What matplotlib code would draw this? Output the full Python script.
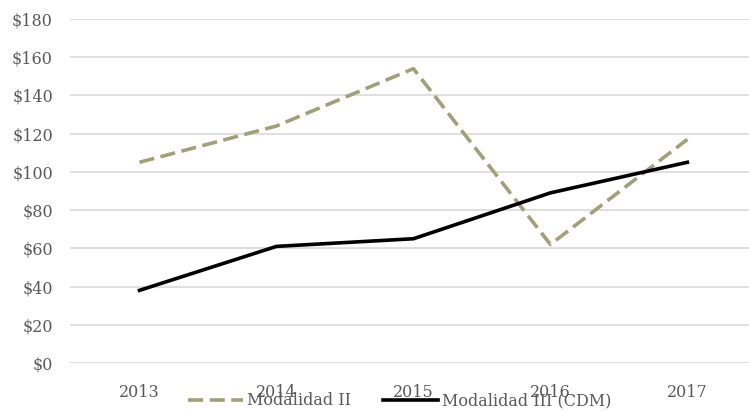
import matplotlib.pyplot as plt
from matplotlib.ticker import FuncFormatter

# datos
anios = ['2013', '2014', '2015', '2016', '2017']
modalidad_ii = [105, 124, 154, 62, 117]
modalidad_iii = [38, 61, 65, 89, 105]

plt.rcParams['font.family'] = ['DejaVu Serif']

fig = plt.figure(figsize=(7.49, 4.12), dpi=100)
ax = fig.add_axes([0.093, 0.119, 0.907, 0.835])

x = range(len(anios))
ax.plot(x, modalidad_ii, color='#a0a07a', lw=2.6, dashes=(4.2, 1.8),
        label='Modalidad II', solid_capstyle='butt')
ax.plot(x, modalidad_iii, color='black', lw=2.6, label='Modalidad III (CDM)')

ax.set_ylim(0, 180)
ax.set_yticks(range(0, 181, 20))
ax.yaxis.set_major_formatter(FuncFormatter(lambda v, p: '$%d' % v))
ax.set_xlim(-0.51, 4.45)
ax.set_xticks(list(x))
ax.set_xticklabels(anios)

ax.grid(axis='y', color='#d9d9d9', lw=1.2)
ax.set_axisbelow(True)
for s in ax.spines.values():
    s.set_visible(False)
ax.tick_params(length=0, colors='#595959', labelsize=11.5)
ax.tick_params(axis='y', pad=12)
ax.tick_params(axis='x', pad=15)

fig.legend(loc='center', bbox_to_anchor=(0.534, 0.027), ncol=2, frameon=False,
           fontsize=11.5, labelcolor='#595959', handlelength=3.4,
           columnspacing=2.0, handletextpad=0.3)

plt.savefig('out.png', dpi=100)
